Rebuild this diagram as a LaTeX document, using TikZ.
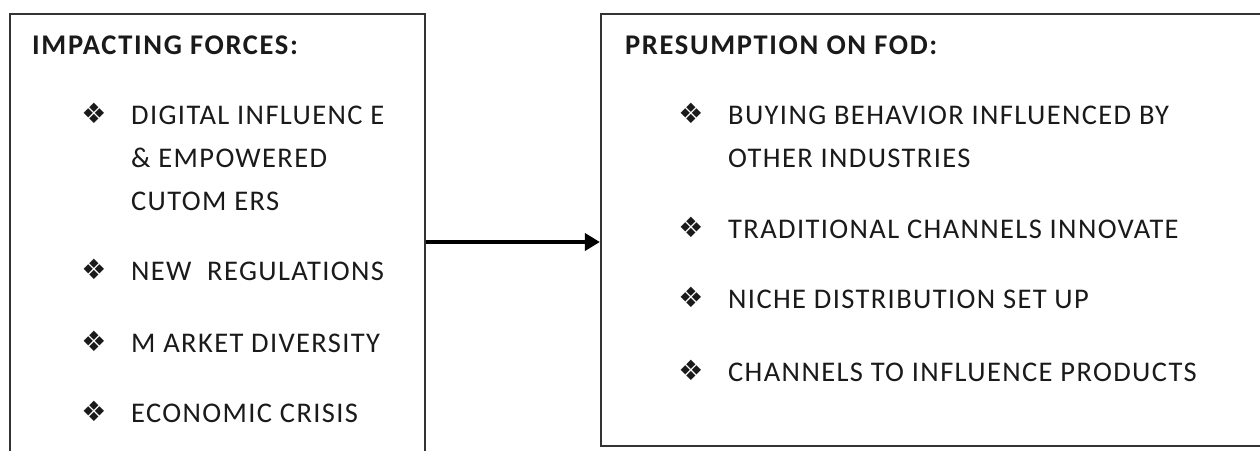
\documentclass[tikz,border=0pt]{standalone}
\usepackage{fontspec}
\setmainfont{Carlito}
\newfontfamily\dingfont{DejaVu Sans}
\usetikzlibrary{arrows.meta,calc}
\definecolor{ink}{HTML}{1A1A1A}
\definecolor{frame}{HTML}{333333}
\tikzset{
  panel/.style={draw=frame, line width=2.2pt, fill=none, inner sep=0pt},
  head/.style={anchor=base west, inner sep=0pt, text=ink, font=\fontsize{28.5}{34}\selectfont\bfseries\addfontfeature{LetterSpace=5.8}},
  item/.style={anchor=base west, inner sep=0pt, text=ink, font=\fontsize{28.5}{34}\selectfont\addfontfeature{LetterSpace=4.8}},
  bulletsym/.style={anchor=center, inner sep=0pt, text=ink, font=\dingfont\fontsize{28}{30}\selectfont},
  flow/.style={-{Triangle[length=15pt,width=17pt]}, line width=4.5pt, draw=black}
}
\begin{document}
\begin{tikzpicture}[x=1pt,y=-1pt]
\clip (0,0) rectangle (1260,450);
\fill[white] (0,0) rectangle (1260,450);
% two panels, both running past the edge of the page
\node[panel, minimum width=415pt, minimum height=456pt] (L) at (217.5,242) {};
\node[panel, minimum width=689pt, minimum height=432pt] (R) at (945.5,230) {};
% left panel
\node[head] (lh) at (32,54) {IMPACTING FORCES:};
\node[bulletsym] (lb1) at (94,113) {❖};
\node[item] (l1a) at (131,124) {DIGITAL INFLUENC E};
\node[item] (l1b) at (131,167) {\& EMPOWERED};
\node[item] (l1c) at (131,210) {CUTOM ERS};
\node[bulletsym] (lb2) at (94,269) {❖};
\node[item] (l2) at (131,280) {NEW\ \ REGULATIONS};
\node[bulletsym] (lb3) at (94,341) {❖};
\node[item] (l3) at (131,352) {M ARKET DIVERSITY};
\node[bulletsym] (lb4) at (94,411) {❖};
\node[item] (l4) at (131,422) {ECONOMIC CRISIS};
% right panel
\node[head] (rh) at (625,54) {PRESUMPTION ON FOD:};
\node[bulletsym] (rb1) at (691,113) {❖};
\node[item] (r1a) at (728,124) {BUYING BEHAVIOR INFLUENCED BY};
\node[item] (r1b) at (728,167) {OTHER INDUSTRIES};
\node[bulletsym] (rb2) at (691,227) {❖};
\node[item] (r2) at (728,238) {TRADITIONAL CHANNELS INNOVATE};
\node[bulletsym] (rb3) at (691,297) {❖};
\node[item] (r3) at (728,308) {NICHE DISTRIBUTION SET UP};
\node[bulletsym] (rb4) at (691,370) {❖};
\node[item] (r4) at (728,381) {CHANNELS TO INFLUENCE PRODUCTS};
% connector
\draw[flow] (L.east) -- (L.east -| R.west);
\end{tikzpicture}
\end{document}
